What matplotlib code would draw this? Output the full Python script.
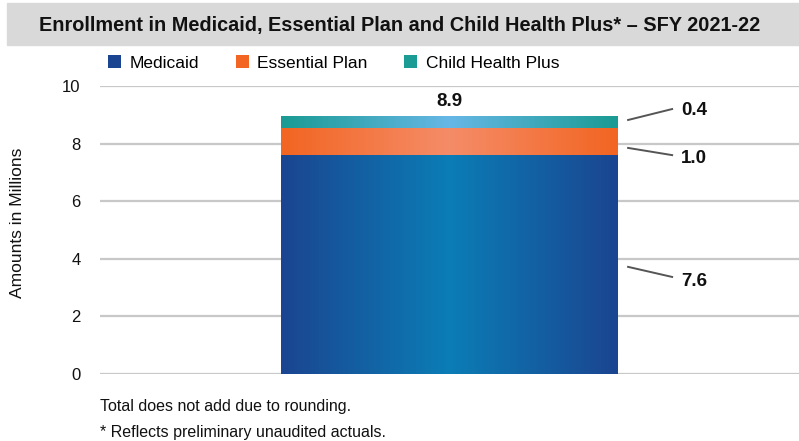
import numpy as np
import matplotlib
matplotlib.use("Agg")
from matplotlib import pyplot as plt
from matplotlib.colors import LinearSegmentedColormap
from matplotlib.patches import Rectangle, Patch

plt.rcParams['font.family'] = ['Liberation Sans', 'DejaVu Sans']

# data
series = ['Medicaid', 'Essential Plan', 'Child Health Plus']
values = [7.6, 0.95, 0.4]
value_labels = ['7.6', '1.0', '0.4']
total_label = '8.9'
yticks = [0, 2, 4, 6, 8, 10]

edge_cols = ['#1b4590', '#f26522', '#1a9b93']
mid_cols = ['#0b7db6', '#f58c68', '#66b7e6']

fig = plt.figure(figsize=(7.99, 4.41), dpi=100)
W, H = 799, 441

# title bar
fig.patches.append(Rectangle((7 / W, 1 - 45 / H), 1 - 7 / W, 42 / H,
                             transform=fig.transFigure, color='#d9d9d9', zorder=0))
fig.text(400 / W, 1 - 25 / H, 'Enrollment in Medicaid, Essential Plan and Child Health Plus* \u2013 SFY 2021-22',
         ha='center', va='center', fontsize=14.3, fontweight='bold', color='#111111')

ax = fig.add_axes([100 / W, 1 - 374 / H, 699 / W, 288 / H])
for s in ax.spines.values():
    s.set_visible(False)
ax.tick_params(axis='y', length=0, labelsize=12, pad=14, colors='#111111')
ax.grid(axis='y', color='#c8c8c8', linewidth=1.6)
ax.set_axisbelow(True)
fig.text(18 / W, 1 - 223 / H, 'Amounts in Millions', rotation=90, ha='center', va='center',
         fontsize=12.5, color='#111111')

grad = np.abs(np.linspace(-1, 1, 256))
bottom = 0
for v, e, m in zip(values, edge_cols, mid_cols):
    b = ax.bar(0, v, bottom=bottom, width=0.962, color='none', zorder=2)[0]
    cmap = LinearSegmentedColormap.from_list('g', [m, e])
    x0, y0 = b.get_x(), b.get_y()
    ax.imshow(grad[None, :], cmap=cmap, aspect='auto', zorder=2,
              extent=[x0, x0 + b.get_width(), y0, y0 + b.get_height()])
    bottom += v
ax.set_xlim(-1, 1)
ax.set_ylim(0, 10)
ax.set_yticks(yticks)
ax.set_xticks([])

ax.text(0, bottom + 0.22, total_label, ha='center', va='bottom',
        fontsize=13.5, fontweight='bold', color='#111111')

# leader lines: (start y, end y, label y)
line_start = [3.72, 7.85, 8.82]
line_end = [3.37, 7.6, 9.2]
label_y = [3.2, 7.5, 9.15]
for lab, ys, ye, yl in zip(value_labels, line_start, line_end, label_y):
    ax.plot([0.511, 0.637], [ys, ye], color='#555555', lw=1.4, zorder=3)
    ax.text(0.663, yl, lab, ha='left', va='center', fontsize=13.5,
            fontweight='bold', color='#111111')

handles = [Patch(facecolor=e, edgecolor='none') for e in edge_cols]
fig.legend(handles, series, loc='center left', bbox_to_anchor=(108 / W, 1 - 63 / H),
           ncol=3, frameon=False, fontsize=12.5, handlelength=0.75, handleheight=0.75,
           handletextpad=0.5, columnspacing=2.1, borderpad=0, borderaxespad=0)

fig.text(100 / W, 1 - 406 / H, 'Total does not add due to rounding.', fontsize=11.5,
         va='center', color='#111111')
fig.text(100 / W, 1 - 432 / H, '* Reflects preliminary unaudited actuals.', fontsize=11.5,
         va='center', color='#111111')

fig.savefig('out.png', dpi=100)
